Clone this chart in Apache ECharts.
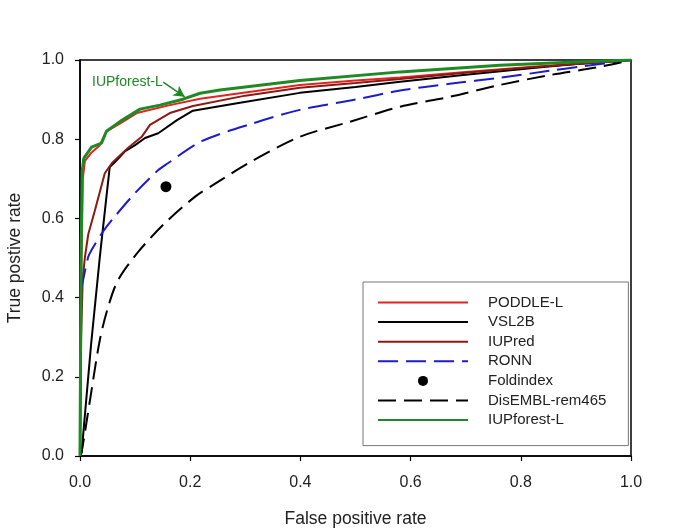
<!DOCTYPE html>
<html>
<head>
<meta charset="utf-8">
<script src="https://cdn.jsdelivr.net/npm/echarts@6/dist/echarts.min.js"></script>
<style>html,body{margin:0;padding:0;background:#fff}#c{width:685px;height:532px}</style>
</head>
<body>
<div id="c"></div>
<script>
var seriesNames = ['PODDLE-L', 'VSL2B', 'IUPred', 'RONN', 'Foldindex', 'DisEMBL-rem465', 'IUPforest-L'];
var tickLabels = ['0.0', '0.2', '0.4', '0.6', '0.8', '1.0'];

var poddle = [[0,0],[0.002,0.45],[0.005,0.70],[0.009,0.745],[0.02,0.765],[0.036,0.785],[0.048,0.82],[0.073,0.84],[0.103,0.866],[0.163,0.886],[0.218,0.902],[0.3,0.918],[0.399,0.937],[0.5,0.948],[0.581,0.956],[0.7,0.97],[0.822,0.983],[0.9,0.99],[1,1]];
var vsl2b = [[0,0],[0.003,0.01],[0.02,0.28],[0.036,0.503],[0.048,0.655],[0.054,0.73],[0.064,0.743],[0.082,0.77],[0.1,0.785],[0.118,0.803],[0.142,0.815],[0.176,0.848],[0.205,0.872],[0.285,0.891],[0.399,0.917],[0.5,0.932],[0.581,0.945],[0.7,0.963],[0.822,0.98],[0.9,0.99],[1,1]];
var iupred = [[0,0],[0.002,0.3],[0.005,0.45],[0.009,0.503],[0.015,0.56],[0.027,0.62],[0.045,0.714],[0.058,0.74],[0.087,0.778],[0.112,0.806],[0.127,0.836],[0.163,0.866],[0.205,0.884],[0.3,0.91],[0.399,0.93],[0.5,0.942],[0.581,0.952],[0.7,0.968],[0.822,0.982],[0.9,0.99],[1,1]];
var ronn = [[0,0],[0.002,0.42],[0.005,0.44],[0.015,0.503],[0.021,0.52],[0.04,0.563],[0.058,0.596],[0.1,0.664],[0.142,0.722],[0.158,0.738],[0.221,0.795],[0.314,0.84],[0.399,0.874],[0.5,0.9],[0.581,0.923],[0.671,0.94],[0.762,0.955],[0.853,0.973],[0.907,0.983],[1,1]];
var foldindex = [[0.156,0.68]];
var disembl = [[0,0],[0.003,0.01],[0.018,0.14],[0.036,0.293],[0.051,0.376],[0.069,0.444],[0.106,0.516],[0.154,0.588],[0.209,0.655],[0.241,0.684],[0.309,0.742],[0.399,0.806],[0.49,0.844],[0.581,0.882],[0.671,0.907],[0.762,0.937],[0.853,0.962],[0.944,0.983],[1,1]];
var iupforest = [[0,0],[0.002,0.5],[0.004,0.72],[0.007,0.752],[0.021,0.78],[0.039,0.79],[0.048,0.82],[0.073,0.845],[0.109,0.876],[0.145,0.886],[0.187,0.901],[0.218,0.916],[0.254,0.924],[0.399,0.948],[0.581,0.97],[0.762,0.987],[0.9,0.995],[1,1]];

var annotText = 'IUPforest-L';
var annotTextPos = [0.086, 0.944];
var annotArrow = [[0.151, 0.944], [0.19, 0.907]];

var FONT = '"Liberation Sans", Arial, sans-serif';
var chart = echarts.init(document.getElementById('c'));

function lineSeries(name, data, color, width, type, smooth) {
  return {
    name: name, type: 'line', data: data, showSymbol: false, symbol: 'none',
    smooth: smooth || false,
    lineStyle: { color: color, width: width, type: type || 'solid' },
    itemStyle: { color: color }, animation: false, z: 3
  };
}

var green = lineSeries(seriesNames[6], iupforest, '#1f8a24', 3);
green.markLine = {
  silent: true, symbol: ['none', 'arrow'], symbolSize: [9, 11],
  lineStyle: { color: '#1f8a24', width: 1.6, type: 'solid' },
  label: { show: false },
  data: [[{ coord: annotArrow[0] }, { coord: annotArrow[1] }]],
  animation: false
};
green.markPoint = {
  silent: true, symbol: 'rect', symbolSize: 1,
  itemStyle: { color: 'rgba(0,0,0,0)' },
  label: { show: true, position: 'inside', formatter: annotText, color: '#1f8a24', fontSize: 14, fontFamily: FONT },
  data: [{ coord: annotTextPos }],
  animation: false
};

var option = {
  backgroundColor: '#fff',
  animation: false,
  grid: { left: 80, right: 54, top: 60, bottom: 76, outerBoundsMode: 'none', containLabel: false, show: true, borderColor: '#000', borderWidth: 1.5, backgroundColor: 'transparent' },
  xAxis: {
    type: 'value', min: 0, max: 1, interval: 0.2,
    name: 'False positive rate', nameLocation: 'middle', nameGap: 54,
    nameTextStyle: { fontSize: 17.5, color: '#222', fontFamily: FONT },
    axisLine: { show: true, lineStyle: { color: '#000', width: 1.5 } },
    axisTick: { show: true, inside: false, length: 5, lineStyle: { color: '#000', width: 1.2 } },
    axisLabel: { fontSize: 16, color: '#222', fontFamily: FONT, margin: 19, formatter: function (v) { return tickLabels[Math.round(v * 5)]; } },
    splitLine: { show: false }
  },
  yAxis: {
    type: 'value', min: 0, max: 1, interval: 0.2,
    name: 'True postive rate', nameLocation: 'middle', nameGap: 56, nameRotate: 90,
    nameTextStyle: { fontSize: 17.5, color: '#222', fontFamily: FONT },
    axisLine: { show: true, lineStyle: { color: '#000', width: 1.5 } },
    axisTick: { show: true, inside: false, length: 5, lineStyle: { color: '#000', width: 1.2 } },
    axisLabel: { fontSize: 16, color: '#222', fontFamily: FONT, margin: 16, formatter: function (v) { return tickLabels[Math.round(v * 5)]; } },
    splitLine: { show: false }
  },
  legend: {
    orient: 'vertical', left: 363, top: 282,
    backgroundColor: '#fff', borderColor: '#777', borderWidth: 1,
    padding: [13, 22, 18, 14],
    itemWidth: 90, itemHeight: 10, itemGap: 4.6,
    textStyle: { fontSize: 15, color: '#222', fontFamily: FONT, lineHeight: 14, padding: [0, 0, 0, 15] },
    data: seriesNames.map(function (n) {
      return n === 'Foldindex' ? { name: n, icon: 'circle' } : { name: n, itemStyle: { opacity: 0 } };
    })
  },
  series: [
    lineSeries(seriesNames[0], poddle, '#e3231f', 2),
    lineSeries(seriesNames[1], vsl2b, '#000000', 2),
    lineSeries(seriesNames[2], iupred, '#8b1a14', 2),
    lineSeries(seriesNames[3], ronn, '#1c1ccc', 2, [20, 8], 0.3),
    { name: seriesNames[4], type: 'scatter', data: foldindex, symbol: 'circle', symbolSize: 11, itemStyle: { color: '#000', opacity: 1 }, animation: false, z: 4 },
    lineSeries(seriesNames[5], disembl, '#000000', 2, [18, 8], 0.3),
    green
  ]
};
chart.setOption(option);
</script>
</body>
</html>
